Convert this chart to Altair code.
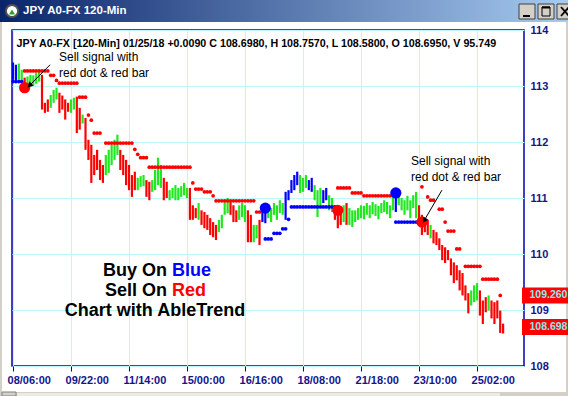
import math
import altair as alt
import pandas as pd

FONT = "Liberation Sans"
RED = "#FF0000"
GREEN = "#1FE81F"
BLUE = "#0000FF"
NAVY = "#14148C"
FRAME = "#0000B4"
GRID = "#BDF7F7"
WINGRAY = "#D4D0C8"

window_title = "JPY A0-FX 120-Min"
header_text = ("JPY A0-FX [120-Min] 01/25/18 +0.0090 C 108.6980, H 108.7570, "
               "L 108.5800, O 108.6950, V 95.749")

# 120-minute bars: high / low and trend colour (b = up, r = down, g = neutral)
bar_high = [
    113.42, 113.38, 113.40, 113.29, 113.15, 113.17, 113.20, 113.19, 113.24, 113.26,
    113.20, 112.70, 112.76, 112.84, 112.93, 112.97, 112.88, 112.83, 112.76, 112.70,
    112.76, 112.79, 112.81, 112.61, 112.49, 112.43, 112.04, 111.95, 111.77, 111.86,
    111.68, 111.59, 111.77, 111.86, 111.95, 112.04, 112.13, 111.86, 111.77, 111.68,
    111.59, 111.41, 111.47, 111.36, 111.39, 111.41, 111.32, 111.29, 111.32, 111.50,
    111.72, 111.59, 111.36, 111.29, 111.14, 111.18, 111.23, 111.18, 111.21, 111.27,
    111.18, 111.18, 110.87, 110.82, 110.91, 110.78, 110.75, 110.70, 110.64, 110.57,
    110.52, 110.61, 110.70, 110.96, 111.00, 110.96, 110.87, 110.78, 110.87, 110.91,
    110.87, 110.78, 110.70, 110.52, 110.52, 110.61, 110.87, 110.82, 110.87, 110.82,
    110.91, 110.87, 110.96, 110.91, 111.11, 111.14, 111.32, 111.41, 111.47, 111.41,
    111.36, 111.41, 111.32, 111.36, 111.23, 111.14, 111.18, 111.14, 111.18, 111.05,
    111.00, 110.87, 110.78, 110.82, 110.87, 110.91, 110.82, 110.78, 110.78, 110.82,
    110.87, 110.86, 110.91, 110.87, 110.93, 110.89, 110.86, 110.91, 110.96, 110.93,
    110.87, 111.00, 111.18, 111.05, 111.00, 110.96, 111.04, 110.96, 111.05, 111.11,
    110.87, 110.70, 110.64, 110.61, 110.52, 110.43, 110.39, 110.28, 110.16, 110.12,
    110.07, 109.92, 109.85, 109.80, 109.71, 109.66, 109.44, 109.30, 109.35, 109.44,
    109.48, 109.35, 109.17, 109.23, 109.26, 109.17, 109.14, 109.17, 108.99, 108.757,
]
bar_low = [
    113.11, 113.06, 113.11, 113.08, 112.97, 112.99, 113.02, 113.01, 113.04, 113.08,
    112.58, 112.52, 112.54, 112.61, 112.70, 112.76, 112.52, 112.58, 112.40, 112.54,
    112.52, 112.58, 112.16, 112.22, 112.33, 111.86, 111.68, 111.27, 111.41, 111.50,
    111.32, 111.27, 111.41, 111.45, 111.59, 111.68, 111.77, 111.50, 111.41, 111.23,
    111.14, 111.02, 111.14, 111.14, 111.20, 111.21, 111.02, 110.96, 111.11, 111.14,
    111.23, 111.18, 110.96, 111.00, 110.96, 111.00, 110.96, 110.96, 111.02, 111.05,
    111.00, 110.61, 110.61, 110.64, 110.61, 110.52, 110.46, 110.43, 110.34, 110.30,
    110.25, 110.39, 110.46, 110.70, 110.73, 110.70, 110.57, 110.57, 110.61, 110.66,
    110.57, 110.21, 110.21, 110.21, 110.28, 110.16, 110.57, 110.55, 110.64, 110.57,
    110.70, 110.61, 110.73, 110.70, 110.61, 110.96, 111.09, 111.14, 111.23, 111.09,
    111.11, 111.18, 111.14, 111.11, 110.96, 110.66, 110.87, 110.91, 110.96, 110.78,
    110.75, 110.61, 110.46, 110.52, 110.57, 110.52, 110.52, 110.48, 110.57, 110.61,
    110.64, 110.62, 110.70, 110.64, 110.71, 110.68, 110.62, 110.73, 110.75, 110.71,
    110.64, 110.78, 110.75, 110.87, 110.78, 110.70, 110.78, 110.64, 110.82, 110.64,
    110.52, 110.34, 110.39, 110.34, 110.28, 110.19, 110.16, 110.07, 109.89, 109.84,
    109.89, 109.62, 109.48, 109.53, 109.35, 109.26, 109.17, 108.94, 109.08, 109.14,
    109.17, 108.90, 108.75, 108.96, 108.99, 108.85, 108.75, 108.85, 108.59, 108.58,
]
bar_trend = list(
    "bbggrggggg" "rrrgggrrrr" "ggrrgrrrrr" "rrgggggrrr" "rrrgggrrgg"
    "ggrrgggggg" "grrrgrrrrr" "rggggrrrgg" "grrggrbbgg" "ggggbbbbbg"
    "ggbbgggbbg" "grrrgrgggg" "gggggggggg" "ggbggggggg" "rrrrgrrrrr"
    "rrrrrrrrgg" "grrrgrrrrr"
)

# AbleTrend stop dots: (first bar, last bar, stop price, trend)
stop_runs = [
    (0, 3, 113.08, "b"), (4, 12, 113.27, "r"), (13, 14, 113.19, "r"),
    (15, 15, 113.10, "r"), (16, 22, 113.05, "r"), (23, 25, 112.80, "r"),
    (26, 26, 112.48, "r"), (27, 27, 112.39, "r"), (28, 30, 112.16, "r"),
    (32, 41, 111.98, "r"), (42, 42, 111.87, "r"), (43, 43, 111.78, "r"),
    (44, 46, 111.72, "r"), (47, 61, 111.55, "r"), (62, 62, 111.27, "r"),
    (63, 65, 111.16, "r"), (66, 68, 111.11, "r"), (69, 69, 111.04, "r"),
    (70, 83, 110.95, "r"), (84, 85, 110.75, "r"), (87, 89, 110.27, "b"),
    (90, 92, 110.37, "b"), (93, 94, 110.45, "b"), (95, 95, 110.62, "b"),
    (96, 111, 110.84, "b"), (112, 116, 111.18, "r"), (117, 120, 111.09, "r"),
    (121, 131, 111.04, "r"), (132, 140, 110.57, "b"), (141, 141, 111.20, "r"),
    (143, 143, 111.02, "r"), (144, 145, 110.96, "r"), (147, 148, 110.80, "r"),
    (149, 149, 110.57, "r"), (150, 152, 110.41, "r"), (153, 154, 110.09, "r"),
    (156, 161, 109.78, "r"), (162, 167, 109.55, "r"), (168, 168, 109.26, "r"),
]

# buy / sell signal dots
sig_idx = [4, 87, 112, 132, 141]
sig_price = [112.97, 110.82, 110.78, 111.09, 110.57]
sig_trend = ["r", "b", "r", "b", "r"]

# time axis
tick_idx = list(range(0, 176, 5))
time_label_idx = [0, 20, 40, 60, 80, 100, 120, 140, 160]
time_labels = ["08/06:00", "09/22:00", "11/14:00", "15/00:00", "16/16:00",
               "18/08:00", "21/18:00", "23/10:00", "25/02:00"]
price_ticks = [108 + 0.5 * k for k in range(13)]

# last-value boxes on the price axis
box_price = [109.26, 108.698]
box_text = ["109.260", "108.698"]

# callouts
ann_lines = ["Sell signal with", "red dot & red bar"]
arrow_tail_i = [12.8, 147.9]
arrow_tail_p = [113.38, 111.14]
arrow_tip_i = [5.7, 141.8]
arrow_tip_p = [113.01, 110.60]

W, H = 512, 336
X_DOM = [-0.35, 176.2]
Y_DOM = [108, 114]
xs = alt.Scale(domain=X_DOM, nice=False, zero=False)
ys = alt.Scale(domain=Y_DOM, nice=False, zero=False)
trend_scale = alt.Scale(domain=["r", "g", "b"], range=[RED, GREEN, BLUE])

bars_df = pd.DataFrame({"i": range(len(bar_high)), "high": bar_high,
                        "low": bar_low, "trend": bar_trend})
stops_df = pd.DataFrame([{"i": k, "p": p, "trend": c}
                         for a, b, p, c in stop_runs for k in range(a, b + 1)])
sig_df = pd.DataFrame({"i": sig_idx, "p": sig_price, "trend": sig_trend})

label_expr = "''"
for idx, lab in reversed(list(zip(time_label_idx, time_labels))):
    label_expr = f"datum.value == {idx} ? '{lab}' : ({label_expr})"

x_axis = alt.Axis(values=tick_idx, labelExpr=label_expr, title=None, grid=True,
                  gridColor=GRID, gridWidth=1, domain=False, ticks=True,
                  tickColor=FRAME, tickSize=5, tickWidth=1, labelAlign="left",
                  labelOffset=-6, labelPadding=3, labelFont=FONT, labelFontSize=11,
                  labelFontWeight="bold", labelColor=NAVY, labelOverlap=False,
                  labelFlush=False)
y_axis = alt.Axis(orient="right", values=price_ticks, format=".4~g", title=None,
                  grid=True, gridColor=GRID, gridWidth=1, domain=False, ticks=False,
                  labelPadding=6, labelFont=FONT, labelFontSize=11,
                  labelFontWeight="bold", labelColor=NAVY, labelOverlap=False,
                  labelFlush=False)

bars = alt.Chart(bars_df).mark_rule(strokeWidth=2.2).encode(
    x=alt.X("i:Q", scale=xs, axis=x_axis),
    y=alt.Y("low:Q", scale=ys, axis=y_axis),
    y2="high:Q",
    color=alt.Color("trend:N", scale=trend_scale, legend=None),
)

stops = alt.Chart(stops_df).mark_point(filled=True, shape="circle", size=14,
                                        opacity=1).encode(
    x=alt.X("i:Q", scale=xs), y=alt.Y("p:Q", scale=ys),
    color=alt.Color("trend:N", scale=trend_scale, legend=None),
)

signals = alt.Chart(sig_df).mark_point(filled=True, shape="circle", size=125,
                                        opacity=1).encode(
    x=alt.X("i:Q", scale=xs), y=alt.Y("p:Q", scale=ys),
    color=alt.Color("trend:N", scale=trend_scale, legend=None),
)

# arrows from the callouts to the sell signals
px_i = W / (X_DOM[1] - X_DOM[0])
px_p = H / (Y_DOM[1] - Y_DOM[0])
arrow_ang = []
for ti, tp, hi, hp in zip(arrow_tail_i, arrow_tail_p, arrow_tip_i, arrow_tip_p):
    dx = (hi - ti) * px_i
    dy = -(hp - tp) * px_p
    arrow_ang.append(math.degrees(math.atan2(dx, -dy)) % 360)
arrow_df = pd.DataFrame({"ti": arrow_tail_i, "tp": arrow_tail_p,
                         "hi": arrow_tip_i, "hp": arrow_tip_p, "ang": arrow_ang})
arrow_lines = alt.Chart(arrow_df).mark_rule(color="black", strokeWidth=1).encode(
    x=alt.X("ti:Q", scale=xs), x2="hi:Q", y=alt.Y("tp:Q", scale=ys), y2="hp:Q")
arrow_heads = alt.Chart(arrow_df).mark_point(shape="triangle-up", filled=True,
                                             size=40, color="black", opacity=1).encode(
    x=alt.X("hi:Q", scale=xs), y=alt.Y("hp:Q", scale=ys),
    angle=alt.Angle("ang:Q", scale=None))

def text_at(txt, x, y, size, color="black", weight="normal", align="left", limit=0):
    props = dict(align=align, baseline="middle", font=FONT, fontSize=size,
                 fontWeight=weight, color=color)
    if limit:
        props.update(limit=limit, ellipsis="\u200b")
    return alt.Chart(pd.DataFrame({"t": [txt]})).mark_text(**props).encode(
        x=alt.value(x), y=alt.value(y), text="t:N")

def box(x, x2, y, y2, fill, stroke=None):
    props = dict(color=fill)
    if stroke:
        props.update(stroke=stroke, strokeWidth=1)
    return alt.Chart(pd.DataFrame({"k": [0]})).mark_rect(**props).encode(
        x=alt.value(x), x2=alt.value(x2), y=alt.value(y), y2=alt.value(y2))

def seg(x, x2, y, y2, color, width):
    return alt.Chart(pd.DataFrame({"k": [0]})).mark_rule(
        color=color, strokeWidth=width, strokeCap="butt").encode(
        x=alt.value(x), x2=alt.value(x2), y=alt.value(y), y2=alt.value(y2))

# window frame
title_bar = alt.Chart(pd.DataFrame({"k": [0]})).mark_rect(
    color=alt.Gradient(gradient="linear", x1=0, x2=1, y1=0, y2=0,
                       stops=[alt.GradientStop(color="#0A246A", offset=0),
                              alt.GradientStop(color="#A6CAF0", offset=1)])
).encode(x=alt.value(-12), x2=alt.value(556), y=alt.value(-30), y2=alt.value(-8))

icon_ring = alt.Chart(pd.DataFrame({"k": [0]})).mark_point(
    shape="circle", filled=True, size=150, color="white", stroke="#505050",
    strokeWidth=2, opacity=1).encode(x=alt.value(0), y=alt.value(-19))
icon_tri = alt.Chart(pd.DataFrame({"k": [0]})).mark_point(
    shape="triangle-up", filled=True, size=35, color="#2AA02A", opacity=1).encode(
    x=alt.value(0), y=alt.value(-18))

chrome = [
    title_bar, icon_ring, icon_tri,
    text_at(window_title, 11, -19, 11.5, "white", "bold"),
    box(507, 523, -26, -11, WINGRAY, "#404040"),
    box(526, 542, -26, -11, WINGRAY, "#404040"),
    box(545, 561, -26, -11, WINGRAY, "#404040"),
    seg(511, 518, -14, -14, "black", 2),
    box(530, 538, -23, -14, WINGRAY, "black"),
    seg(530, 538, -22.5, -22.5, "black", 2),
    seg(549, 557, -23, -14, "black", 1.8),
    seg(549, 557, -14, -23, "black", 1.8),
    box(-12, -10, -8, 366, WINGRAY),
    box(554, 556, -8, 366, WINGRAY),
    box(-12, 556, 362, 366, WINGRAY),
    box(5, 488, 363, 366, "#ECEAE5"),
    box(-10, 4, 362, 366, WINGRAY, "#808080"),
]

# price boxes on the axis, drawn over the window edge
box_df = pd.DataFrame({"p": box_price, "t": box_text})
price_boxes = alt.Chart(box_df).mark_rule(color=RED, strokeWidth=16,
                                          strokeCap="butt").encode(
    x=alt.value(510), x2=alt.value(556), y=alt.Y("p:Q", scale=ys))
price_text = alt.Chart(box_df).mark_text(
    align="left", baseline="middle", font=FONT, fontSize=10.5, fontWeight="bold",
    color="#86ECEC").encode(x=alt.value(517.5), y=alt.Y("p:Q", scale=ys), text="t:N")

texts = [
    text_at(header_text, 4.5, 14, 10.7, "black", "bold", limit=487),
    text_at(ann_lines[0], 47, 27, 12),
    text_at(ann_lines[1], 47, 43, 12),
    text_at(ann_lines[0], 399, 130.5, 12),
    text_at(ann_lines[1], 399, 146.5, 12),
    text_at("Buy On", 155, 241, 18, "black", "bold", "right"),
    text_at("Blue", 160, 241, 18, BLUE, "bold"),
    text_at("Sell On", 155, 261, 18, "black", "bold", "right"),
    text_at("Red", 160, 261, 18, RED, "bold"),
    text_at("Chart with AbleTrend", 143, 281, 18, "black", "bold", "center"),
]

chart = alt.layer(
    bars, stops, signals, arrow_lines, arrow_heads, *texts, *chrome,
    price_boxes, price_text,
).properties(
    width=W, height=H,
    autosize=alt.AutoSizeParams(type="none"),
    padding={"left": 12, "top": 30, "right": 44, "bottom": 30},
    background="white",
).configure_view(stroke=FRAME, strokeWidth=1.5)

chart.save("out.html", embed_options={"renderer": "svg", "actions": False})
